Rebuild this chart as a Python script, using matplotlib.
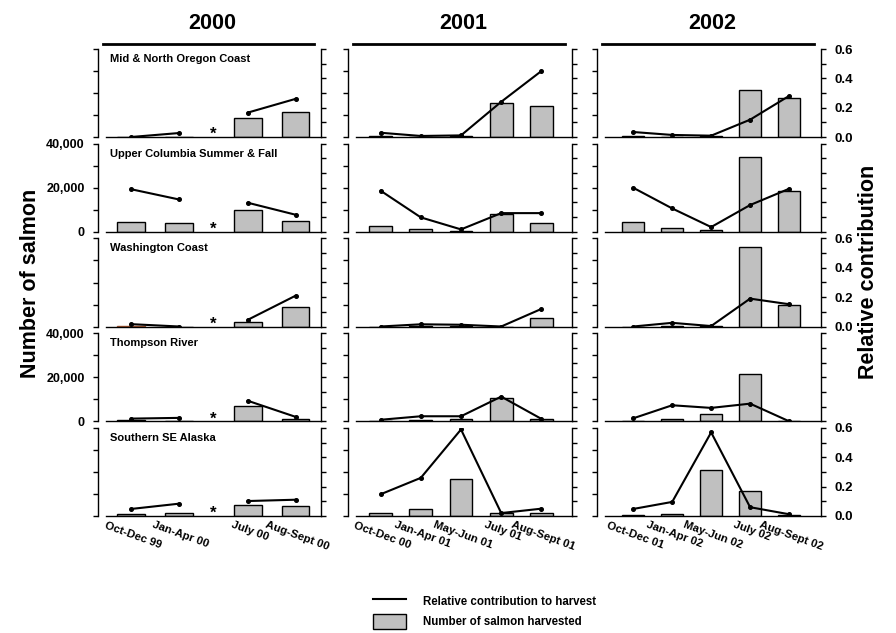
import matplotlib
matplotlib.use('Agg')
import matplotlib.pyplot as plt
import matplotlib.transforms as mtransforms
from matplotlib.ticker import MultipleLocator, FuncFormatter
from matplotlib.patches import Patch
from matplotlib.lines import Line2D

plt.rcParams['font.family'] = ['Liberation Sans', 'DejaVu Sans']
plt.rcParams['font.weight'] = 'bold'

# ---------------- data ----------------
years = ["2000", "2001", "2002"]
stocks = ["Mid & North Oregon Coast", "Upper Columbia Summer & Fall",
          "Washington Coast", "Thompson River", "Southern SE Alaska"]

periods_2000 = ["Oct-Dec 99", "Jan-Apr 00", "July 00", "Aug-Sept 00"]
periods_2001 = ["Oct-Dec 00", "Jan-Apr 01", "May-Jun 01", "July 01", "Aug-Sept 01"]
periods_2002 = ["Oct-Dec 01", "Jan-Apr 02", "May-Jun 02", "July 02", "Aug-Sept 02"]

# number of salmon harvested (rows = stocks)
harvest_2000 = [[0, 200, 8450, 11200],
                [4400, 3800, 9860, 4850],
                [300, 0, 2100, 8700],
                [400, 300, 7100, 1200],
                [900, 1500, 5000, 4700]]
harvest_2001 = [[400, 100, 300, 15600, 13900],
                [2600, 1200, 300, 8000, 3800],
                [0, 300, 300, 0, 3900],
                [300, 500, 1100, 10500, 800],
                [1500, 3000, 16700, 1500, 1400]]
harvest_2002 = [[400, 150, 300, 21500, 17900],
                [4400, 1500, 900, 34200, 18600],
                [0, 300, 300, 36000, 9900],
                [300, 1200, 3300, 21600, 300],
                [600, 900, 20900, 11400, 400]]

# relative contribution to harvest
contrib_2000 = [[0.0, 0.027, 0.166, 0.26],
                [0.29, 0.22, 0.198, 0.116],
                [0.016, 0.0, 0.045, 0.21],
                [0.018, 0.023, 0.14, 0.03],
                [0.048, 0.084, 0.102, 0.111]]
contrib_2001 = [[0.029, 0.007, 0.011, 0.24, 0.45],
                [0.28, 0.098, 0.016, 0.127, 0.127],
                [0.0, 0.015, 0.012, 0.0, 0.12],
                [0.01, 0.034, 0.034, 0.168, 0.016],
                [0.148, 0.26, 0.59, 0.02, 0.05]]
contrib_2002 = [[0.034, 0.014, 0.009, 0.118, 0.28],
                [0.30, 0.159, 0.032, 0.182, 0.293],
                [0.0, 0.025, 0.003, 0.19, 0.152],
                [0.02, 0.109, 0.091, 0.12, 0.0],
                [0.048, 0.096, 0.57, 0.06, 0.012]]

# ---------------- layout ----------------
periods = [periods_2000, periods_2001, periods_2002]
harvest = [harvest_2000, harvest_2001, harvest_2002]
contrib = [contrib_2000, contrib_2001, contrib_2002]
xpos = [[0, 1, 2.43, 3.43], [0, 1, 2, 3, 4], [0, 1, 2, 3, 4]]
star_x = 1.715            # missing May-Jun 00 sample
break_after = 2           # line break in 2000 (missing period)
xlims = [(-0.69, 3.96), (-0.81, 4.76), (-0.93, 4.82)]
bar_w = [0.58, 0.57, 0.575]

W, H = 896, 633
fig = plt.figure(figsize=(W / 100, H / 100), dpi=100)
col_left = [98, 348, 597]
col_w = [223, 224, 224]
row_top = [49, 143.75, 238.5, 333.25, 428]
row_h = 88

bar_color = '#c0c0c0'

for r in range(5):
    for c in range(3):
        l, t = col_left[c], row_top[r]
        ax = fig.add_axes([l / W, 1 - (t + row_h) / H, col_w[c] / W, row_h / H])
        x = xpos[c]
        bars = ax.bar(x, harvest[c][r], width=bar_w[c], color=bar_color,
                      edgecolor='black', linewidth=1.0, zorder=2)
        if c == 0 and r == 2:
            bars[0].set_edgecolor('#a0522d')
        ax.set_xlim(*xlims[c])
        ax.set_ylim(0, 40000)

        ax2 = ax.twinx()
        ax2.set_ylim(0, 0.6)
        y = contrib[c][r]
        if c == 0:
            segs = [(x[:break_after], y[:break_after]), (x[break_after:], y[break_after:])]
        else:
            segs = [(x, y)]
        for sx, sy in segs:
            ax2.plot(sx, sy, color='black', lw=1.5, marker='o', ms=2.6, zorder=3,
                     solid_capstyle='round')

        # spines
        x0, x1 = xlims[c]
        ax.spines['right'].set_visible(False)
        ax.spines['top'].set_visible(r == 0)
        if r == 0:
            ax.spines['top'].set_position(('outward', 3.5))
            ax.spines['top'].set_linewidth(2.0)
            ax.spines['top'].set_bounds(x0 + 0.022 * (x1 - x0), x0 + 0.97 * (x1 - x0))
        ax.spines['left'].set_linewidth(1.0)
        ax.spines['bottom'].set_linewidth(1.0)
        ax.spines['bottom'].set_bounds(x0 + 0.035 * (x1 - x0), x1)
        for s in ['left', 'top', 'bottom']:
            ax2.spines[s].set_visible(False)
        ax2.spines['right'].set_linewidth(1.0)

        # ticks
        ax.tick_params(axis='x', length=0, labelbottom=False)
        ax.yaxis.set_major_locator(MultipleLocator(10000))
        ax.tick_params(axis='y', direction='out', length=3.5, width=1.0,
                       labelsize=9, pad=6)
        if c == 0 and r in (1, 3):
            ax.yaxis.set_major_formatter(FuncFormatter(
                lambda v, p: f"{int(v):,}" if int(round(v)) % 20000 == 0 else ""))
        else:
            ax.tick_params(axis='y', labelleft=False)
        ax2.yaxis.set_major_locator(MultipleLocator(0.1))
        ax2.tick_params(axis='y', direction='out', length=3.5, width=1.0,
                        labelsize=9.5, pad=6)
        if c == 2 and r in (0, 2, 4):
            ax2.yaxis.set_major_formatter(FuncFormatter(
                lambda v, p: f"{v:.1f}" if int(round(v * 10)) % 2 == 0 else ""))
        else:
            ax2.tick_params(axis='y', labelright=False)

        if c == 0:
            ax.text(0.054, 0.945, stocks[r], transform=ax.transAxes, ha='left',
                    va='top', fontsize=8, fontweight='bold')
            ax.annotate('*', xy=(star_x, 0), xytext=(0, -1.5), textcoords='offset points',
                        ha='center', va='baseline', fontsize=12, fontweight='bold')

        if r == 0:
            ax.text(0.5, 1.0, years[c],
                    transform=ax.transAxes + mtransforms.ScaledTranslation(0.03, 0.15, fig.dpi_scale_trans),
                    ha='center', va='bottom', fontsize=15.5, fontweight='bold')

        if r == 4:
            off = mtransforms.ScaledTranslation(0.02, -0.04, fig.dpi_scale_trans)
            for xi, lab in zip(x, periods[c]):
                ax.text(xi, 0, lab, transform=ax.get_xaxis_transform() + off,
                        rotation=-20, ha='center', va='top',
                        fontsize=8.2, fontweight='bold')

fig.text(30 / W, 1 - 283 / H, "Number of salmon", rotation=90, ha='center',
         va='center', fontsize=15.5, fontweight='bold')
fig.text(868 / W, 1 - 272 / H, "Relative contribution", rotation=90, ha='center',
         va='center', fontsize=15.5, fontweight='bold')

handles = [Line2D([], [], color='black', lw=1.5),
           Patch(facecolor=bar_color, edgecolor='black', linewidth=1.0)]
labels = ["Relative contribution to harvest", "Number of salmon harvested"]
fig.legend(handles, labels, loc='upper left', bbox_to_anchor=(373 / W, 1 - 593 / H),
           frameon=False, handlelength=2.9, handleheight=1.7,
           handletextpad=1.4, labelspacing=0.45, borderpad=0, borderaxespad=0,
           prop={'weight': 'bold', 'size': 8.3})

fig.savefig('out.png', dpi=100)
